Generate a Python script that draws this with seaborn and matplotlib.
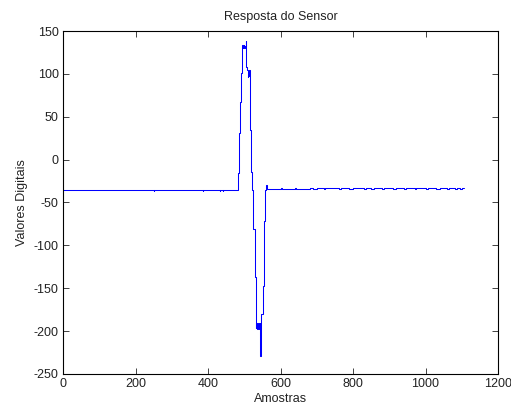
import numpy as np
import pandas as pd
import matplotlib
matplotlib.use("Agg")
import matplotlib.pyplot as plt
import seaborn as sns

# ---- data ----
# sample index where a new (held) value starts, and that value
left_samples = [0, 251, 252, 385, 386, 433, 434, 440, 441]
left_values = [-36, -37, -36, -37, -36, -37, -36, -37, -36]

pulse_samples = [482, 486, 489, 492, 495, 496, 497, 498, 499, 500, 501, 502, 503,
                 504, 506, 508, 509, 510, 511, 512, 513, 514, 515, 518, 520, 525,
                 530, 532, 533, 534, 535, 536, 537, 538, 539, 540, 541, 542, 543,
                 544, 546, 551, 555, 557, 561, 563]
pulse_values = [-16, 31, 67, 101, 134, 130, 133, 131, 134, 130, 132, 130, 133,
                138, 108, 104, 96, 103, 97, 105, 98, 104, 34, -15, -36, -81,
                -137, -196, -190, -197, -191, -198, -192, -196, -190, -197, -192, -198, -191,
                -229, -180, -147, -71, -36, -30, -34]

right_samples = [600, 603, 640, 644, 680, 690, 700, 720, 724, 760, 768, 790, 800,
                 830, 836, 850, 858, 880, 886, 910, 918, 940, 946, 970, 975, 1000,
                 1006, 1030, 1040, 1060, 1064, 1080, 1086, 1095, 1100, 1106]
right_values = [-33, -34, -33, -34, -33, -34, -33, -34, -33, -34, -33, -34, -33,
                -34, -33, -34, -33, -34, -33, -34, -33, -34, -33, -34, -33, -34,
                -33, -34, -33, -34, -33, -34, -33, -34, -33, -33]

title = "Resposta do Sensor"
xlabel = "Amostras"
ylabel = "Valores Digitais"
xticks = [0, 200, 400, 600, 800, 1000, 1200]
yticks = [-250, -200, -150, -100, -50, 0, 50, 100, 150]

df = pd.DataFrame({
    "amostra": left_samples + pulse_samples + right_samples,
    "valor": left_values + pulse_values + right_values,
})

# ---- plot ----
sns.set_style("white")
plt.rcParams["font.family"] = ["Liberation Sans", "DejaVu Sans"]
plt.rcParams["font.size"] = 9

fig = plt.figure(figsize=(5.11, 4.09), dpi=100)
ax = fig.add_axes([0.1233, 0.0856, 0.8513, 0.8386])

sns.lineplot(data=df, x="amostra", y="valor", ax=ax, color="#0000ff",
             linewidth=0.75, estimator=None, sort=False, drawstyle="steps-post")

ax.set_xlim(0, 1200)
ax.set_ylim(-250, 150)
ax.set_xticks(xticks)
ax.set_yticks(yticks)
ax.set_xticklabels([str(t) for t in xticks])
ax.set_yticklabels([str(t) for t in yticks])
ax.tick_params(direction="in", length=4, width=0.6, top=True, right=True,
               labelsize=9, colors="#222222", pad=3, bottom=True, left=True)
for s in ax.spines.values():
    s.set_visible(True)
    s.set_color("black")
    s.set_linewidth(0.8)

ax.set_title(title, fontsize=9, color="#222222", pad=8)
ax.set_xlabel(xlabel, fontsize=9, color="#222222", labelpad=2)
ax.set_ylabel(ylabel, fontsize=9, color="#222222", labelpad=4)

fig.savefig("out.png", dpi=100, facecolor="white")
